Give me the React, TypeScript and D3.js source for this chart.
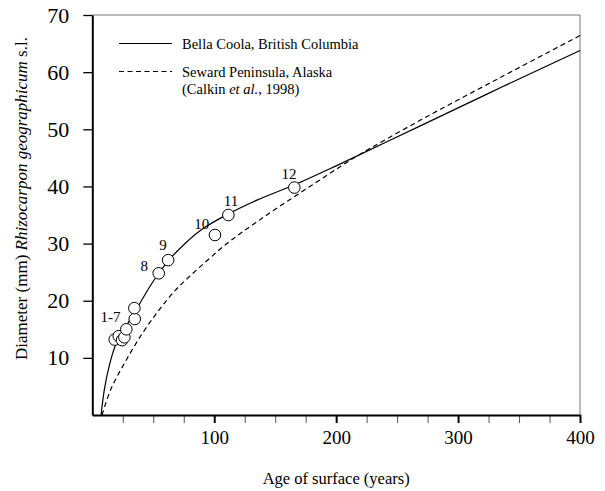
import { useEffect, useRef } from "react";
import * as d3 from "d3";

// lichen growth curves (age in years, diameter in mm)
const bellaCoolaAge = [7.2, 10, 14, 19, 25, 32, 40, 50, 62, 75, 90, 111.6, 135, 165, 200, 269, 335, 400];
const bellaCoolaDiam = [0, 4.6, 8.7, 12.2, 14.6, 17.0, 19.9, 23.4, 26.9, 29.8, 32.5, 35.2, 37.6, 40.2, 43.6, 50.6, 57.3, 63.8];

const sewardAge = [8, 15, 27, 40.8, 54.5, 68, 80, 94, 107.5, 121, 135, 150, 170, 200, 217, 270, 335, 400];
const sewardDiam = [0, 4.4, 9.3, 14.2, 18.3, 21.8, 24.3, 27.0, 29.5, 31.7, 33.8, 36.0, 38.8, 43.0, 45.3, 51.7, 59.1, 66.4];

// dated surfaces
const siteAge = [18.4, 21.7, 24.4, 26.3, 27.9, 34.8, 34.5, 54.5, 62.2, 100.6, 111.6, 165.7];
const siteDiam = [13.2, 13.8, 13.1, 13.6, 15.0, 16.8, 18.7, 24.8, 27.1, 31.5, 35.0, 39.8];

const siteLabels = ["1-7", "8", "9", "10", "11", "12"];
const siteLabelAge = [15, 42.7, 58, 89.7, 113.8, 161.4];
const siteLabelDiam = [17.2, 26.1, 29.8, 33.4, 37.5, 42.2];

const yTicks = [10, 20, 30, 40, 50, 60, 70];
const xMajorTicks = [100, 200, 300, 400];
const xMinorTicks = [25, 50, 75, 125, 150, 175, 225, 250, 275, 325, 350, 375];

const FONT = "Liberation Serif, Times New Roman, serif";

export default function App() {
    const svgRef = useRef(null);
    const width = 605;
    const height = 491;

    useEffect(() => {
        const svg = d3.select(svgRef.current);
        svg.selectAll("*").remove();
        svg.attr("font-family", FONT);

        const xScale = d3.scaleLinear().domain([0, 400]).range([92.3, 580]);
        const yScale = d3.scaleLinear().domain([0, 70]).range([415, 15]);

        // frame (top + right, thin grey)
        svg.append("path")
        .attr("d", `M${xScale(0)},${yScale(70)}H${xScale(400)}V${yScale(0)}`)
        .attr("fill", "none")
        .attr("stroke", "#777")
        .attr("stroke-width", 1);

        // y axis
        const yAxis = svg.append("g")
        .attr("transform", `translate(${xScale(0)},0)`)
        .call(d3.axisLeft(yScale).tickValues(yTicks).tickSize(9).tickSizeOuter(0).tickPadding(14));
        yAxis.attr("font-family", FONT);
        yAxis.select(".domain").attr("stroke", "#000").attr("stroke-width", 2);
        yAxis.selectAll(".tick line").attr("stroke", "#000").attr("stroke-width", 1.3);
        yAxis.selectAll("text")
        .style("font-size", "22px")
        .attr("fill", "#000");

        // x axis minor ticks
        const xMinor = svg.append("g")
        .attr("transform", `translate(0,${yScale(0)})`)
        .call(d3.axisBottom(xScale).tickValues(xMinorTicks).tickSize(8).tickSizeOuter(0).tickFormat(() => ""));
        xMinor.select(".domain").remove();
        xMinor.selectAll(".tick line").attr("stroke", "#555").attr("stroke-width", 1);

        // x axis
        const xAxis = svg.append("g")
        .attr("transform", `translate(0,${yScale(0)})`)
        .call(d3.axisBottom(xScale).tickValues(xMajorTicks).tickSize(8).tickSizeOuter(0).tickPadding(8));
        xAxis.attr("font-family", FONT);
        xAxis.select(".domain").attr("stroke", "#000").attr("stroke-width", 2);
        xAxis.selectAll(".tick line").attr("stroke", "#000").attr("stroke-width", 2);
        xAxis.selectAll("text")
        .style("font-size", "19px")
        .attr("fill", "#000");

        const line = d3.line()
        .x(d => xScale(d[0]))
        .y(d => yScale(d[1]))
        .curve(d3.curveCatmullRom.alpha(0.5));

        // Bella Coola curve
        svg.append("path")
        .datum(bellaCoolaAge.map((a, i) => [a, bellaCoolaDiam[i]]))
        .attr("fill", "none")
        .attr("stroke", "#000")
        .attr("stroke-width", 1.2)
        .attr("d", line);

        // Seward Peninsula curve
        svg.append("path")
        .datum(sewardAge.map((a, i) => [a, sewardDiam[i]]))
        .attr("fill", "none")
        .attr("stroke", "#000")
        .attr("stroke-width", 1.2)
        .attr("stroke-dasharray", "5,3.5")
        .attr("d", line);

        // sites
        svg.append("g")
        .selectAll("circle")
        .data(siteAge.map((a, i) => [a, siteDiam[i]]))
        .join("circle")
        .attr("cx", d => xScale(d[0]))
        .attr("cy", d => yScale(d[1]))
        .attr("r", 5.8)
        .attr("fill", "#fff")
        .attr("stroke", "#000")
        .attr("stroke-width", 1);

        svg.append("g")
        .selectAll("text")
        .data(siteLabels)
        .join("text")
        .text(d => d)
        .attr("x", (d, i) => xScale(siteLabelAge[i]))
        .attr("y", (d, i) => yScale(siteLabelDiam[i]))
        .attr("dy", "0.35em")
        .attr("text-anchor", "middle")
        .attr("fill", "#000")
        .style("font-size", "15px");

        // legend
        const legend = svg.append("g").style("font-size", "14.5px").attr("fill", "#000");
        legend.append("line")
        .attr("x1", 119).attr("x2", 172).attr("y1", 43.5).attr("y2", 43.5)
        .attr("stroke", "#000").attr("stroke-width", 1.2);
        legend.append("text").attr("x", 182).attr("y", 48.5).text("Bella Coola, British Columbia");
        legend.append("line")
        .attr("x1", 119).attr("x2", 172).attr("y1", 71.5).attr("y2", 71.5)
        .attr("stroke", "#000").attr("stroke-width", 1.2).attr("stroke-dasharray", "5,3.5");
        legend.append("text").attr("x", 182).attr("y", 76.5).text("Seward Peninsula, Alaska");
        const cite = legend.append("text").attr("x", 182).attr("y", 94);
        cite.append("tspan").text("(Calkin ");
        cite.append("tspan").style("font-style", "italic").text("et al.");
        cite.append("tspan").text(", 1998)");

        // axis titles
        svg.append("text")
        .attr("x", xScale(200))
        .attr("y", 484)
        .attr("text-anchor", "middle")
        .attr("fill", "#000")
        .style("font-size", "16.5px")
        .text("Age of surface (years)");

        const yTitle = svg.append("text")
        .attr("transform", `translate(27,${198.5}) rotate(-90)`)
        .attr("text-anchor", "middle")
        .attr("fill", "#000")
        .style("font-size", "17px");
        yTitle.append("tspan").text("Diameter (mm) ");
        yTitle.append("tspan").style("font-style", "italic").text("Rhizocarpon geographicum");
        yTitle.append("tspan").text(" s.l.");
    }, []);

    return (
        <svg
        ref={svgRef}
        width={width}
        height={height}
        style={{position: "absolute", left: 0, top: 0, background: "#fff"}}
        />
    );
}
